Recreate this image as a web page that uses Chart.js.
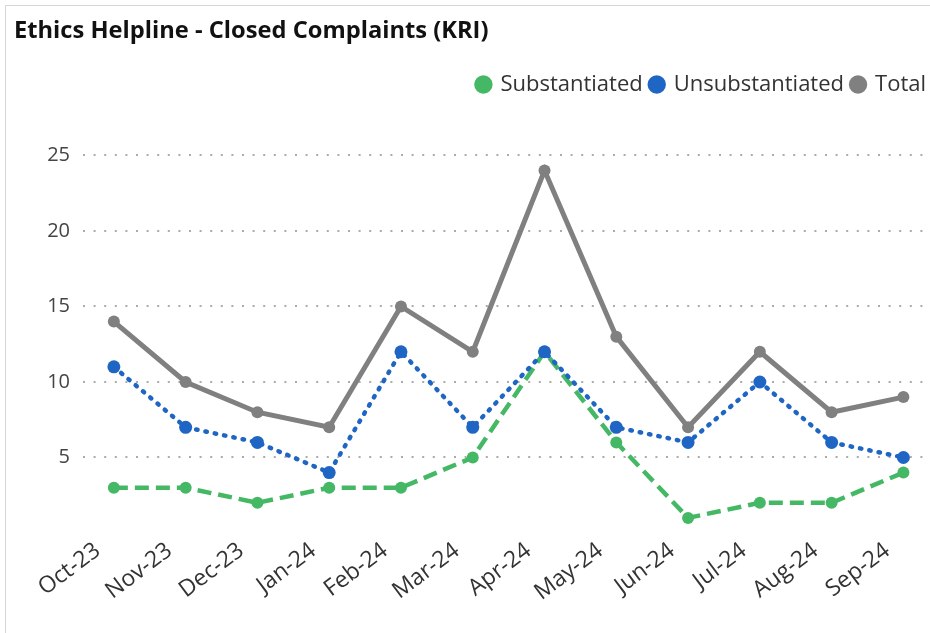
<!DOCTYPE html>
<html>
<head>
<meta charset="utf-8">
<title>Ethics Helpline - Closed Complaints (KRI)</title>
<script src="https://cdn.jsdelivr.net/npm/chart.js@4/dist/chart.umd.min.js"></script>
<style>
    html, body { margin: 0; padding: 0; background: #fff; overflow: hidden; }
    .frame {
        position: absolute;
        left: 5px; top: 5px;
        width: 960px; height: 660px;
        border: 1px solid #d6d6d6;
    }
    #chart-wrap { position: absolute; left: 0; top: 0; width: 930px; height: 633px; }
</style>
</head>
<body>
<div class="frame"></div>
<div id="chart-wrap"><canvas id="kri-chart"></canvas></div>
<script>
const months = ['Oct-23', 'Nov-23', 'Dec-23', 'Jan-24', 'Feb-24', 'Mar-24', 'Apr-24', 'May-24', 'Jun-24', 'Jul-24', 'Aug-24', 'Sep-24'];
const substantiated = [3, 3, 2, 3, 3, 5, 12, 6, 1, 2, 2, 4];
const unsubstantiated = [11, 7, 6, 4, 12, 7, 12, 7, 6, 10, 6, 5];
const total = [14, 10, 8, 7, 15, 12, 24, 13, 7, 12, 8, 9];
const yTicks = [5, 10, 15, 20, 25];

const FONT = "'Segoe UI', 'Open Sans', 'Noto Sans', sans-serif";

function toPoints(values) {
    return values.map((v, i) => ({ x: i, y: v }));
}

// push the plot area down below the legend, and let the legend run to the right edge
const legendSpacer = {
    id: 'legendSpacer',
    beforeInit(chart) {
        const fit = chart.legend.fit;
        chart.legend.fit = function () {
            fit.bind(chart.legend)();
            this.height = 90;
        };
    },
    afterLayout(chart) {
        chart.legend.right += 10;
    }
};

const ctx = document.getElementById('kri-chart').getContext('2d');
new Chart(ctx, {
    type: 'line',
    data: {
        datasets: [
            {
                label: 'Substantiated',
                data: toPoints(substantiated),
                borderColor: '#45b865',
                backgroundColor: '#45b865',
                borderWidth: 4.5,
                borderDash: [14, 7],
                pointRadius: 6,
                pointHoverRadius: 6,
                pointBorderWidth: 0,
                order: 3
            },
            {
                label: 'Unsubstantiated',
                data: toPoints(unsubstantiated),
                borderColor: '#1f66c4',
                backgroundColor: '#1f66c4',
                borderWidth: 4.5,
                borderDash: [1.5, 8],
                borderCapStyle: 'round',
                pointRadius: 6.5,
                pointHoverRadius: 6.5,
                pointBorderWidth: 0,
                order: 2
            },
            {
                label: 'Total',
                data: toPoints(total),
                borderColor: '#808080',
                backgroundColor: '#808080',
                borderWidth: 5,
                pointRadius: 6,
                pointHoverRadius: 6,
                pointBorderWidth: 0,
                order: 1
            }
        ]
    },
    options: {
        responsive: true,
        maintainAspectRatio: false,
        animation: false,
        layout: {
            padding: { left: 14, right: 6, top: 0, bottom: 0 }
        },
        elements: { line: { tension: 0 } },
        scales: {
            x: {
                type: 'linear',
                min: -0.43,
                max: 11.28,
                grid: { display: false },
                border: { display: false },
                afterBuildTicks: (scale) => {
                    scale.ticks = months.map((m, i) => ({ value: i }));
                },
                afterFit: (scale) => { scale.height = 100; },
                ticks: {
                    autoSkip: false,
                    minRotation: 37,
                    maxRotation: 37,
                    padding: -4,
                    labelOffset: -16,
                    color: '#333',
                    font: { family: FONT, size: 23 },
                    callback: (value) => months[value]
                }
            },
            y: {
                min: 0,
                max: 25,
                border: { display: false, dash: [2, 8.6] },
                afterBuildTicks: (scale) => {
                    scale.ticks = yTicks.map(v => ({ value: v }));
                },
                afterFit: (scale) => { scale.width = 69; },
                grid: {
                    color: '#ababab',
                    lineWidth: 2,
                    drawTicks: false
                },
                ticks: {
                    padding: 13,
                    color: '#444',
                    font: { family: FONT, size: 20 }
                }
            }
        },
        plugins: {
            title: {
                display: true,
                text: 'Ethics Helpline - Closed Complaints (KRI)',
                align: 'start',
                color: '#111',
                font: { family: FONT, size: 23.7, weight: 'bold' },
                padding: { top: 17, bottom: 20 }
            },
            legend: {
                position: 'top',
                align: 'end',
                labels: {
                    usePointStyle: true,
                    pointStyle: 'circle',
                    boxWidth: 12,
                    boxHeight: 13,
                    padding: 8,
                    color: '#333',
                    font: { family: FONT, size: 22 },
                    sort: (a, b) => a.datasetIndex - b.datasetIndex
                }
            },
            tooltip: { enabled: false }
        }
    },
    plugins: [legendSpacer]
});
</script>
</body>
</html>
